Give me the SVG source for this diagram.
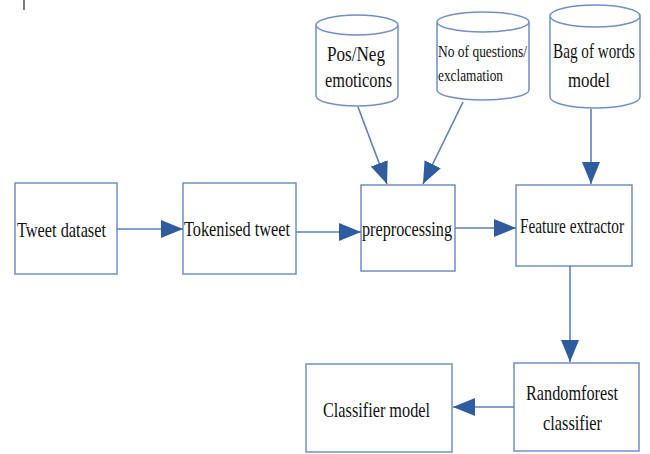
<svg xmlns="http://www.w3.org/2000/svg" width="650" height="454" viewBox="0 0 650 454">
<style>
.box{fill:#fff;stroke:#6F8FC8;stroke-width:1.5}
.cyl{fill:#fff;stroke:#6F8FC8;stroke-width:1.5}
.lbl{font-family:"Liberation Serif","DejaVu Serif",serif;font-size:22px;fill:#111}
.sm{font-size:17px}
.con{stroke:#5A80BE;stroke-width:1.6;fill:none}
</style>
<defs>
<marker id="ah" markerUnits="userSpaceOnUse" markerWidth="24" markerHeight="20" refX="22" refY="10" orient="auto">
<path d="M0,1 L22,10 L0,19 Z" fill="#2E5C9E"/>
</marker>
</defs>
<rect width="650" height="454" fill="#fff"/>
<line x1="24" y1="0" x2="24" y2="10" stroke="#222" stroke-width="1.2"/>

<g id="tweet-dataset">
<rect class="box" x="15" y="183" width="102" height="91"/>
<text class="lbl" x="17" y="237" textLength="89" lengthAdjust="spacingAndGlyphs">Tweet dataset</text>
</g>
<g id="tokenised-tweet">
<rect class="box" x="183" y="183" width="113" height="91"/>
<text class="lbl" x="184" y="236" textLength="106" lengthAdjust="spacingAndGlyphs">Tokenised tweet</text>
</g>
<g id="preprocessing">
<rect class="box" x="361" y="185" width="94" height="86"/>
<text class="lbl" x="362" y="236" textLength="90" lengthAdjust="spacingAndGlyphs">preprocessing</text>
</g>
<g id="feature-extractor">
<rect class="box" x="516" y="185" width="116" height="81"/>
<text class="lbl" transform="translate(520,233) scale(0.7,1)" x="0" y="0" textLength="148.6" lengthAdjust="spacingAndGlyphs">Feature extractor</text>
</g>
<g id="pos-neg">
<path class="cyl" d="M316,25 L316,96 A41,10 0 0 0 398,96 L398,25 A41,10 0 0 0 316,25 A41,10 0 0 0 398,25"/>
<text class="lbl" x="327" y="61" textLength="58" lengthAdjust="spacingAndGlyphs">Pos/Neg</text>
<text class="lbl" x="325" y="87" textLength="67" lengthAdjust="spacingAndGlyphs">emoticons</text>
</g>
<g id="questions">
<path class="cyl" d="M437,22 L437,90 A46,10 0 0 0 529,90 L529,22 A46,10 0 0 0 437,22 A46,10 0 0 0 529,22"/>
<text class="lbl sm" x="438" y="57" textLength="89" lengthAdjust="spacingAndGlyphs">No of questions/</text>
<text class="lbl sm" x="438" y="81" textLength="65" lengthAdjust="spacingAndGlyphs">exclamation</text>
</g>
<g id="bag-of-words">
<path class="cyl" d="M550,16 L550,97 A45,11 0 0 0 640,97 L640,16 A45,11 0 0 0 550,16 A45,11 0 0 0 640,16"/>
<text class="lbl" transform="translate(553,58) scale(0.7,1)" x="0" y="0" textLength="117" lengthAdjust="spacingAndGlyphs">Bag of words</text>
<text class="lbl" x="568" y="87" textLength="42" lengthAdjust="spacingAndGlyphs">model</text>
</g>
<g id="randomforest">
<rect class="box" x="514" y="363" width="125" height="88"/>
<text class="lbl" x="526" y="400" textLength="92" lengthAdjust="spacingAndGlyphs">Randomforest</text>
<text class="lbl" x="543" y="430" textLength="59" lengthAdjust="spacingAndGlyphs">classifier</text>
</g>
<g id="classifier-model">
<rect class="box" x="306" y="364" width="146" height="88"/>
<text class="lbl" x="323" y="417" textLength="107" lengthAdjust="spacingAndGlyphs">Classifier model</text>
</g>

<g id="connectors">
<line class="con" x1="117" y1="229" x2="183" y2="229" marker-end="url(#ah)"/>
<line class="con" x1="296" y1="232" x2="361" y2="232" marker-end="url(#ah)"/>
<line class="con" x1="455" y1="228" x2="516" y2="228" marker-end="url(#ah)"/>
<line class="con" x1="358" y1="107" x2="387" y2="184" marker-end="url(#ah)"/>
<line class="con" x1="463" y1="102" x2="423" y2="184" marker-end="url(#ah)"/>
<line class="con" x1="591" y1="109" x2="591" y2="184" marker-end="url(#ah)"/>
<line class="con" x1="570" y1="266" x2="570" y2="362" marker-end="url(#ah)"/>
<line class="con" x1="514" y1="407" x2="453" y2="407" marker-end="url(#ah)"/>
</g>
</svg>
